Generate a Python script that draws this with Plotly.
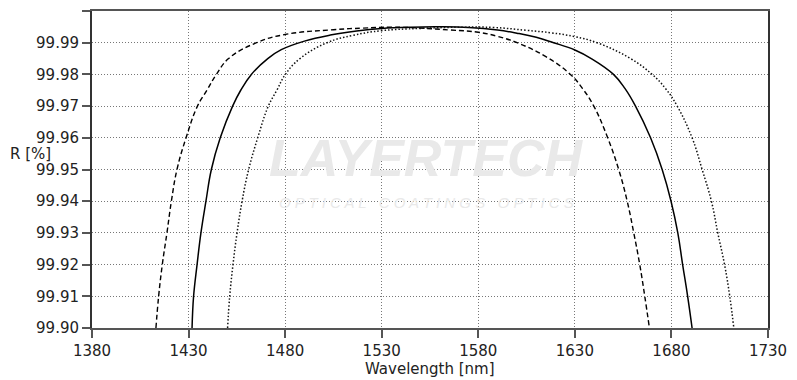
import plotly.graph_objects as go

# Solid curve (wavelength nm, R %)
solid_wl = [1431.8, 1432.6, 1434.4, 1436.4, 1439.0, 1441.8, 1446.4, 1452.8, 1457.0, 1462.5,
            1471.0, 1478.0, 1490.0, 1503.4, 1517.0, 1530.0, 1545.0, 1560.0, 1575.0, 1590.0, 1600.0,
            1610.0, 1619.0, 1630.0, 1638.5, 1650.0, 1656.0, 1661.4, 1669.2, 1675.2,
            1679.8, 1683.3, 1685.8, 1688.4, 1690.7]
solid_r = [99.900, 99.910, 99.920, 99.930, 99.940, 99.950, 99.960, 99.970, 99.975, 99.980,
           99.985, 99.9878, 99.9905, 99.9924, 99.9937, 99.9945, 99.9949, 99.9950, 99.9948, 99.9940, 99.9930,
           99.9917, 99.9900, 99.9877, 99.9850, 99.9800, 99.9755, 99.9700, 99.9600, 99.9500,
           99.9400, 99.9300, 99.9200, 99.9100, 99.9000]

# Dashed curve
dash_wl = [1413.1, 1414.5, 1416.4, 1418.8, 1421.1, 1424.0, 1428.7, 1434.6, 1439.5, 1444.4,
           1450.7, 1465.2, 1480.0, 1505.0, 1520.0, 1535.0, 1550.0, 1565.6, 1580.0, 1590.0,
           1600.1, 1615.0, 1627.7, 1634.0, 1639.8, 1647.0, 1652.7, 1657.1, 1660.5, 1663.6,
           1666.2, 1668.6]
dash_r = [99.900, 99.910, 99.920, 99.930, 99.940, 99.950, 99.960, 99.970, 99.975, 99.980,
          99.985, 99.990, 99.9926, 99.9941, 99.9946, 99.9949, 99.9946, 99.9940, 99.9933, 99.9920,
          99.9900, 99.9856, 99.9800, 99.9755, 99.9700, 99.9600, 99.9500, 99.9400, 99.9300, 99.9200,
          99.9100, 99.9000]

# Dotted curve
dot_wl = [1450.2, 1451.3, 1453.0, 1455.1, 1457.7, 1461.1, 1465.8, 1471.3, 1475.7, 1480.1,
          1487.7, 1501.7, 1515.0, 1530.0, 1550.0, 1572.0, 1588.0, 1605.0, 1618.0, 1630.0,
          1641.5, 1658.8, 1670.0, 1677.0, 1683.0, 1690.7, 1695.9, 1700.7, 1704.0, 1707.5,
          1710.2, 1712.3]
dot_r = [99.900, 99.910, 99.920, 99.930, 99.940, 99.950, 99.960, 99.970, 99.975, 99.980,
         99.985, 99.990, 99.9923, 99.9938, 99.9945, 99.9949, 99.9948, 99.9939, 99.9931, 99.9919,
         99.9900, 99.9850, 99.9800, 99.9755, 99.9700, 99.9600, 99.9500, 99.9400, 99.9300, 99.9200,
         99.9100, 99.9000]

x_ticks = [1380, 1430, 1480, 1530, 1580, 1630, 1680, 1730]
y_ticks = [99.90, 99.91, 99.92, 99.93, 99.94, 99.95, 99.96, 99.97, 99.98, 99.99, 100.0]
y_labels = ["99.90", "99.91", "99.92", "99.93", "99.94", "99.95", "99.96", "99.97",
            "99.98", "99.99", "100.0"]

SM = 1.2

fig = go.Figure()
fig.add_trace(go.Scatter(x=dash_wl, y=dash_r, mode="lines",
                         line=dict(color="black", width=1.4, dash="5px,3px", shape="spline", smoothing=SM)))
fig.add_trace(go.Scatter(x=solid_wl, y=solid_r, mode="lines",
                         line=dict(color="black", width=1.5, shape="spline", smoothing=SM)))
fig.add_trace(go.Scatter(x=dot_wl, y=dot_r, mode="lines",
                         line=dict(color="#111", width=1.5, dash="1.5px,2px", shape="spline", smoothing=SM)))

font = "DejaVu Sans, Verdana, sans-serif"
wm_font = "Liberation Sans, Arial, sans-serif"

W, H = 789, 372
L, R, T, B = 84, 29, 3, 52

fig.update_layout(
    width=W, height=H,
    margin=dict(l=L, r=R, t=T, b=B),
    paper_bgcolor="white", plot_bgcolor="white",
    showlegend=False,
    font=dict(family=font, size=15, color="#222"),
    xaxis=dict(range=[1380, 1730], tickvals=x_ticks, ticks="outside", ticklen=8,
               tickwidth=1.5, tickcolor="#555", automargin=False,
               showline=True, linecolor="#555", linewidth=2, mirror=True,
               showgrid=True, gridcolor="#777", griddash="1px,2px", gridwidth=1,
               zeroline=False, tickfont=dict(size=15, family=font, color="#222")),
    yaxis=dict(range=[99.90, 100.0], tickvals=y_ticks, ticktext=y_labels, ticks="outside",
               ticklen=8, tickwidth=1.5, tickcolor="#555", automargin=False,
               showline=True, linecolor="#333", linewidth=2, mirror=True,
               showgrid=True, gridcolor="#777", griddash="1px,2px", gridwidth=1,
               zeroline=False, tickfont=dict(size=15, family=font, color="#222")),
)

# axis titles
fig.add_annotation(text="Wavelength [nm]", xref="paper", yref="paper", x=0.5, y=0,
                   xanchor="center", yanchor="middle", yshift=-41, showarrow=False,
                   font=dict(size=15, family=font, color="#222"))
fig.add_annotation(text="R [%]", xref="paper", yref="paper", x=0, y=0.5485,
                   xanchor="left", yanchor="middle", xshift=-L, showarrow=False,
                   font=dict(size=15, family=font, color="#222"))

# watermark
fig.add_annotation(text="<b><i>LAYERTECH</i></b>", xref="x", yref="y", x=1553, y=99.9536,
                   showarrow=False, font=dict(size=52, family=wm_font, color="#e9e9e9"))
fig.add_annotation(text="<i>O P T I C A L   C O A T I N G S   O P T I C S</i>",
                   xref="x", yref="y", x=1553, y=99.9397, showarrow=False,
                   font=dict(size=15, family=wm_font, color="#e9e9e9"))

fig.write_html("out.html")
